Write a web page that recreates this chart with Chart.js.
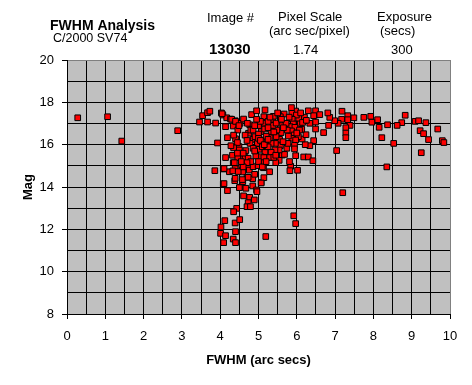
<!DOCTYPE html>
<html>
<head>
<meta charset="utf-8">
<script src="https://cdn.jsdelivr.net/npm/chart.js@4/dist/chart.umd.min.js"></script>
<style>
html,body{margin:0;padding:0;background:#fff;}
#wrap{position:relative;width:472px;height:385px;}
</style>
</head>
<body>
<div id="wrap"><canvas id="c" width="472" height="385"></canvas></div>
<script>
// FWHM (arc secs) values
const fwhm = [
0.28,1.06,1.43,2.89,
3.46,3.67,3.54,3.67,3.73,3.88,3.93,4.03,4.07,4.14,4.19,4.40,4.17,4.27,4.39,4.34,4.46,4.52,4.61,4.82,4.77,4.82,4.74,4.86,4.14,3.86,4.08,4.24,4.32,4.34,4.39,4.49,4.52,4.50,4.65,4.67,4.78,4.73,4.59,4.08,4.19,4.38,4.59,4.70,4.85,4.52,4.67,4.85,4.95,4.61,4.77,4.89,4.73,4.43,
4.70,4.79,4.96,5.07,4.35,4.12,4.39,4.51,4.02,4.01,4.14,4.40,4.34,4.09,4.40,5.19,5.92,5.97,
4.05,4.30,4.40,4.49,4.71,4.80,4.86,4.91,5.07,5.09,4.97,4.86,5.02,5.17,5.06,4.93,4.73,4.46,4.37,4.10,4.33,4.47,4.76,4.86,4.99,4.56,4.39,4.58,4.73,4.10,4.50,
8.83,8.74,8.62,8.37,8.22,8.53,8.15,8.11,7.96,7.93,7.75,7.49,7.33,7.33,7.18,7.17,7.39,7.28,7.28,7.28,7.08,6.99,6.86,6.81,6.83,6.70,7.04,7.20,8.35,9.25,9.09,9.18,9.37,9.22,9.31,9.44,9.68,9.80,9.84,
6.49,6.60,6.49,6.49,6.44,6.34,6.44,6.34,6.22,6.14,6.24,6.13,6.09,6.05,5.97,5.86,5.87,5.99,5.88,5.91,5.82,5.95,5.86,5.93,5.87,6.07,6.04,5.97,5.94,5.94,5.97,6.18,6.30,6.42,6.02,5.84,5.82,5.81,5.74,5.77,5.78,5.75,5.67,5.70,5.61,5.59,5.55,5.57,5.62,5.68,5.54,5.45,5.54,5.43,5.44,5.46,5.48,5.38,5.37,5.39,5.17,5.14,5.14,5.16,5.33,5.30,5.33,5.33,5.29,5.14,5.14,5.13,5.29,5.14,5.07,
5.46,5.57,5.72,5.64,5.00,5.05,4.95,5.25,5.25,5.00,5.20,5.10,5.20,4.90,5.40,5.00,5.25,5.40,5.00,4.65,4.90,5.30,5.50,4.60,4.80,4.45,4.35,4.28,5.60,5.80,6.20,6.30,6.10,4.95,5.05,5.15,5.45,4.70,4.90,4.60,5.10,5.20,4.55,4.45,4.35,4.70,6.15,6.25,6.00,5.65,5.25
];
// Mag values
const mag = [
17.27,17.32,16.17,16.66,
17.07,17.07,17.37,17.51,17.58,17.02,16.08,17.50,17.40,16.85,16.33,16.28,17.27,17.21,17.13,16.88,16.69,17.01,17.21,17.42,16.94,16.73,16.54,16.25,15.39,14.77,14.85,14.72,15.50,15.15,14.87,15.91,15.43,15.75,15.39,15.72,16.06,14.99,14.71,14.14,13.83,14.30,14.25,14.46,14.39,13.99,13.94,14.05,13.86,13.58,13.51,13.39,13.26,12.99,
13.07,13.07,13.78,14.21,12.83,12.41,12.30,12.46,12.11,11.81,11.70,11.89,11.54,11.37,11.37,11.66,12.64,12.27,
17.46,17.20,17.10,16.90,17.01,16.69,16.69,16.38,16.62,16.22,16.06,15.83,15.78,15.67,15.43,15.47,15.36,15.39,15.15,14.87,14.76,14.73,14.80,14.96,15.01,15.04,14.41,14.35,14.46,14.16,13.97,
17.39,17.04,16.91,16.94,16.33,16.06,16.82,17.18,17.06,17.34,17.29,17.27,17.37,17.18,17.58,17.20,16.91,16.80,16.55,16.33,17.01,17.13,17.29,17.50,16.91,16.57,15.72,13.73,14.95,15.62,17.10,17.13,17.04,16.66,16.52,16.24,16.74,16.19,16.10,
17.60,17.42,17.07,16.74,17.37,17.01,16.19,15.95,16.00,16.27,16.47,16.73,17.01,17.25,17.59,17.75,17.48,17.40,17.20,16.98,16.85,16.82,16.65,16.46,16.30,16.69,16.38,16.22,15.97,15.80,15.48,15.42,15.42,15.24,14.79,14.98,14.77,15.20,15.83,16.06,16.41,16.69,17.45,17.01,16.90,16.57,16.25,15.95,15.51,15.54,15.26,15.15,15.75,15.75,16.06,16.38,16.69,16.91,17.20,17.34,17.64,17.32,17.01,16.74,16.62,16.33,16.06,15.64,15.39,15.39,15.15,14.91,14.72,14.44,14.19,
17.02,17.32,17.01,16.14,16.90,17.10,17.20,17.10,16.80,16.50,16.40,15.90,15.95,15.70,15.40,15.20,15.90,16.60,16.30,16.45,16.90,17.30,17.50,15.60,15.20,16.10,15.85,15.95,17.20,17.30,17.30,17.60,17.50,17.60,16.20,16.00,15.50,15.15,14.60,14.95,14.95,15.20,15.20,15.60,16.45,16.20,17.05,17.15,16.55,16.80,16.25
];
const xTickLabels = [0,1,2,3,4,5,6,7,8,9,10];
const yTickLabels = [8,10,12,14,16,18,20];

const points = fwhm.map((x, i) => ({x: x, y: mag[i]}));
const FONT = '"Liberation Sans", Arial, sans-serif';

const headerPlugin = {
  id: 'header',
  beforeDraw(chart) {
    const {ctx, chartArea: a} = chart;
    ctx.save();
    ctx.fillStyle = '#C0C0C0';
    ctx.fillRect(a.left, a.top, a.right - a.left, a.bottom - a.top);
    ctx.restore();
  },
  afterDraw(chart) {
    const ctx = chart.ctx;
    ctx.save();
    ctx.fillStyle = '#000';
    ctx.textBaseline = 'alphabetic';
    ctx.textAlign = 'left';
    const t = (s, x, y, f) => { ctx.font = f; ctx.fillText(s, x, y); };
    t('FWHM Analysis', 50, 30, 'bold 14px ' + FONT);
    t('C/2000 SV74', 53, 42, '12.5px ' + FONT);
    t('Image #', 207, 22, '13px ' + FONT);
    t('13030', 209, 54, 'bold 15px ' + FONT);
    t('Pixel Scale', 278, 21, '13px ' + FONT);
    t('(arc sec/pixel)', 269, 35, '13px ' + FONT);
    t('1.74', 293, 54, '13px ' + FONT);
    t('Exposure', 377, 21, '13px ' + FONT);
    t('(secs)', 380, 35, '13px ' + FONT);
    t('300', 391, 54, '13px ' + FONT);
    ctx.restore();
  }
};

new Chart(document.getElementById('c'), {
  type: 'scatter',
  data: {
    datasets: [{
      data: points,
      pointStyle: 'rect',
      pointRadius: 4.0,
      pointHoverRadius: 4.0,
      backgroundColor: '#FF0000',
      borderColor: '#000000',
      borderWidth: 1
    }]
  },
  plugins: [headerPlugin],
  options: {
    responsive: false,
    animation: false,
    events: [],
    layout: { padding: { top: 60, right: 22, left: 0, bottom: 0 } },
    plugins: { legend: { display: false }, tooltip: { enabled: false } },
    scales: {
      x: {
        type: 'linear', min: 0, max: 10,
        afterFit: s => { s.height = 71; },
        ticks: {
          stepSize: 0.5, autoSkip: false, maxRotation: 0, padding: 10,
          color: '#000', font: { family: FONT, size: 13 },
          callback: v => xTickLabels.includes(v) ? String(v) : ''
        },
        grid: {
          color: c => (c.tick && c.tick.value === 10) ? '#808080' : '#000',
          lineWidth: 1,
          tickLength: 5,
          tickColor: c => (c.tick && Number.isInteger(c.tick.value)) ? '#000' : 'rgba(0,0,0,0)'
        },
        border: { color: '#000', width: 1 },
        title: {
          display: true, text: 'FWHM (arc secs)', color: '#000',
          font: { family: FONT, size: 13, weight: 'bold' },
          padding: { top: 0, bottom: 17 }
        }
      },
      y: {
        type: 'linear', min: 8, max: 20,
        afterFit: s => { s.width = 67; },
        ticks: {
          stepSize: 1, autoSkip: false, padding: 8,
          color: '#000', font: { family: FONT, size: 13 },
          callback: v => yTickLabels.includes(v) ? String(v) : ''
        },
        grid: {
          color: c => (c.tick && c.tick.value === 20) ? '#808080' : '#000',
          lineWidth: 1,
          tickLength: 5,
          tickColor: c => (c.tick && yTickLabels.includes(c.tick.value)) ? '#000' : 'rgba(0,0,0,0)'
        },
        border: { color: '#000', width: 1 },
        title: {
          display: true, text: 'Mag', color: '#000',
          font: { family: FONT, size: 13, weight: 'bold' },
          padding: { top: 21, bottom: 0 }
        }
      }
    }
  }
});
</script>
</body>
</html>
